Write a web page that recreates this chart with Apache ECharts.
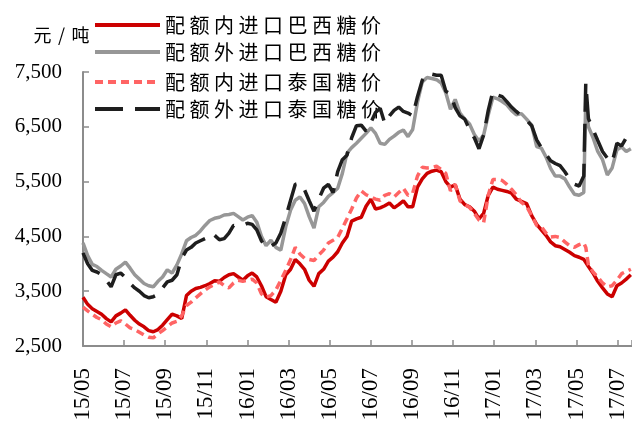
<!DOCTYPE html>
<html>
<head>
<meta charset="utf-8">
<script src="https://cdn.jsdelivr.net/npm/echarts@6/dist/echarts.min.js"></script>
<style>
  html, body { margin: 0; padding: 0; background: #fff; }
  #chart { width: 632px; height: 437px; }
</style>
</head>
<body>
<div id="chart"></div>
<script>
// Weekly observation dates (plus the mid-May 2017 jump)
const dates = [
  '2015-05-01','2015-05-08','2015-05-15','2015-05-22','2015-05-29','2015-06-05','2015-06-12','2015-06-19','2015-06-26',
  '2015-07-03','2015-07-10','2015-07-17','2015-07-24','2015-07-31','2015-08-07','2015-08-14','2015-08-21','2015-08-28',
  '2015-09-04','2015-09-11','2015-09-18','2015-09-25','2015-10-02','2015-10-09','2015-10-16','2015-10-23','2015-10-30',
  '2015-11-06','2015-11-13','2015-11-20','2015-11-27','2015-12-04','2015-12-11','2015-12-18','2015-12-25',
  '2016-01-01','2016-01-08','2016-01-15','2016-01-22','2016-01-29','2016-02-05','2016-02-12','2016-02-19','2016-02-26',
  '2016-03-04','2016-03-11','2016-03-18','2016-03-25','2016-04-01','2016-04-08','2016-04-15','2016-04-22','2016-04-29',
  '2016-05-06','2016-05-13','2016-05-20','2016-05-27','2016-06-03','2016-06-10','2016-06-17','2016-06-24',
  '2016-07-01','2016-07-08','2016-07-15','2016-07-22','2016-07-29','2016-08-05','2016-08-12','2016-08-19','2016-08-26',
  '2016-09-02','2016-09-09','2016-09-16','2016-09-23','2016-09-30','2016-10-07','2016-10-14','2016-10-21','2016-10-28',
  '2016-11-04','2016-11-11','2016-11-18','2016-11-25','2016-12-02','2016-12-09','2016-12-16','2016-12-23','2016-12-30',
  '2017-01-06','2017-01-13','2017-01-20','2017-01-27','2017-02-03','2017-02-10','2017-02-17','2017-02-24',
  '2017-03-03','2017-03-10','2017-03-17','2017-03-24','2017-03-31','2017-04-07','2017-04-14','2017-04-21','2017-04-28',
  '2017-05-05','2017-05-12','2017-05-15','2017-05-19','2017-05-26','2017-06-02','2017-06-09','2017-06-16','2017-06-23',
  '2017-06-30','2017-07-07','2017-07-14','2017-07-21'
];

// 配额内进口巴西糖价 (元/吨)
const brazilInQuota = [
  3390,3260,3180,3130,3080,3000,2940,3050,3100,3160,
  3060,2970,2900,2850,2780,2760,2800,2880,2980,3080,
  3050,3000,3420,3500,3550,3570,3600,3640,3690,3680,
  3750,3800,3820,3760,3700,3780,3830,3760,3600,3400,
  3350,3300,3500,3800,3900,4080,4000,3900,3700,3590,
  3820,3900,4050,4120,4220,4380,4500,4780,4820,4850,
  5050,5180,5000,5020,5060,5110,5020,5080,5150,5040,
  5040,5400,5550,5650,5690,5710,5680,5500,5400,5440,
  5180,5080,5040,4960,4820,4920,5250,5400,5360,5340,
  5320,5290,5180,5140,5100,4880,4720,4620,4520,4400,
  4330,4310,4260,4210,4150,4120,4080,4100,
  3950,3830,3680,3560,3450,3400,3600,3650,3720,3800
];

// 配额外进口巴西糖价 (元/吨)
const brazilOutQuota = [
  4380,4150,3990,3950,3880,3820,3760,3900,3960,4030,
  3920,3800,3720,3640,3600,3580,3680,3760,3890,3830,
  3980,4180,4420,4480,4520,4600,4700,4790,4830,4850,
  4890,4900,4920,4860,4800,4850,4880,4760,4500,4330,
  4430,4300,4250,4680,4980,5160,5220,5100,4860,4650,
  5040,5120,5230,5300,5380,5650,6020,6120,6200,6290,
  6380,6480,6380,6200,6180,6270,6330,6400,6440,6320,
  6450,6950,7320,7400,7380,7360,7300,7120,6820,7000,
  6750,6640,6550,6360,6240,6350,6720,7040,7010,6960,
  6900,6800,6720,6740,6640,6530,6140,6110,5950,5740,
  5600,5600,5550,5400,5270,5250,5300,7000,
  6500,6300,6050,5900,5620,5750,6080,6130,6050,6100
];

// 配额内进口泰国糖价 (元/吨)
const thaiInQuota = [
  3210,3140,3080,3020,2980,2900,2850,2920,2960,2900,
  2830,2800,2750,2700,2660,2650,2720,2780,2850,2920,
  2950,3050,3240,3300,3380,3450,3520,3580,3620,3670,
  3600,3560,3650,3700,3680,3700,3720,3650,3450,3390,
  3420,3520,3700,3880,4080,4300,4180,4100,4080,4060,
  4160,4250,4380,4430,4480,4650,4820,5000,5200,5330,
  5260,5220,5180,5160,5250,5280,5220,5300,5380,5250,
  5290,5600,5760,5750,5760,5780,5720,5650,5330,5450,
  5150,5080,5030,4920,4800,4750,5250,5540,5540,5520,
  5450,5360,5260,5120,5050,4880,4700,4680,4560,4490,
  4500,4480,4400,4330,4300,4350,4380,4300,
  3980,3850,3760,3650,3580,3600,3700,3820,3860,3900
];

// 配额外进口泰国糖价 (元/吨)
const thaiOutQuota = [
  4200,4000,3880,3850,3800,3700,3580,3800,3830,3750,
  3640,3560,3500,3420,3380,3400,3440,3560,3670,3700,
  3800,4100,4250,4300,4380,4420,4460,4550,4520,4440,
  4460,4560,4700,4690,4700,4740,4720,4620,4420,4300,
  4320,4380,4560,4850,5160,5450,5470,5350,5150,4960,
  5180,5380,5450,5300,5680,5900,5980,6300,6520,6530,
  6420,6580,6760,6840,6560,6700,6800,6860,6780,6750,
  6700,7050,7350,7470,7460,7440,7440,7150,7100,6850,
  6700,6640,6450,6300,6100,6350,6800,7150,7080,7050,
  6960,6860,6780,6700,6620,6520,6260,6120,6000,5880,
  5830,5790,5680,5550,5450,5420,5600,7300,
  6650,6450,6250,6050,5930,5850,6200,6150,6300,6350
];

const seriesNames = ['配额内进口巴西糖价', '配额外进口巴西糖价', '配额内进口泰国糖价', '配额外进口泰国糖价'];
const unitLabel = '元/吨';
const yTicks = [2500, 3500, 4500, 5500, 6500, 7500];

// x position = months elapsed since May 2015 (fractional within each month)
function monthIndex(s) {
  const [y, m, d] = s.split('-').map(Number);
  const days = new Date(Date.UTC(y, m, 0)).getUTCDate();
  return (y - 2015) * 12 + (m - 5) + (d - 1) / days;
}
function monthLabel(v) {
  if (Math.abs(v - Math.round(v)) > 1e-6 || Math.round(v) % 2 !== 0) return '';
  const t = Math.round(v) + 4;
  const yy = 15 + Math.floor(t / 12);
  const mm = (t % 12) + 1;
  return yy + '/' + (mm < 10 ? '0' + mm : mm);
}
const pair = vals => dates.map((d, i) => [monthIndex(d), vals[i]]);

const chart = echarts.init(document.getElementById('chart'), null, { renderer: 'canvas' });

const cjk = "'Noto Sans CJK SC', sans-serif";
const serif = "'Liberation Serif', 'Times New Roman', serif";

// evenly spaced glyphs for the CJK labels
const legendRich = {
  c: { width: 24.5, fontSize: 20, fontFamily: cjk, color: '#000', align: 'left' }
};
const spaced = name => name.split('').map(ch => '{c|' + ch + '}').join('');
const legendRows = [10, 37, 67, 94];

const styles = [
  { color: '#CC0000', type: 'solid' },
  { color: '#979797', type: 'solid' },
  { color: '#FF6464', type: [8, 5] },
  { color: '#1E1E1E', type: [28, 12] }
];
const valueSets = [brazilInQuota, brazilOutQuota, thaiInQuota, thaiOutQuota];

chart.setOption({
  animation: false,
  backgroundColor: '#fff',
  title: {
    text: unitLabel.split('').map(ch => '{u|' + ch + '}').join(''),
    left: 28, top: 21,
    textStyle: {
      fontFamily: cjk, fontSize: 18, fontWeight: 'normal', color: '#000',
      rich: { u: { width: 19, fontSize: 18, fontFamily: cjk, color: '#000', align: 'center' } }
    }
  },
  legend: seriesNames.map((n, i) => ({
    data: [n],
    left: 88,
    top: legendRows[i],
    itemWidth: 65,
    itemHeight: 20,
    formatter: spaced,
    itemStyle: { opacity: 0 },
    lineStyle: { width: 4 },
    textStyle: { rich: legendRich, fontFamily: cjk, fontSize: 20, lineHeight: 20 },
    selectedMode: false
  })),
  grid: { left: 83, right: 0, top: 72, bottom: 91, containLabel: false },
  xAxis: {
    type: 'value',
    min: 0, max: 26.7, interval: 2,
    splitLine: { show: false },
    axisLine: { lineStyle: { color: '#8C8C8C', width: 2 } },
    axisTick: { inside: true, length: 6, lineStyle: { color: '#8C8C8C', width: 1.5 } },
    axisLabel: {
      rotate: 90, margin: 22,
      fontFamily: serif, fontSize: 23, color: '#000',
      padding: [10, 0, 0, 0],
      formatter: monthLabel
    }
  },
  yAxis: {
    type: 'value',
    min: yTicks[0], max: yTicks[yTicks.length - 1], interval: 1000,
    splitLine: { show: false },
    axisLine: { show: true, lineStyle: { color: '#8C8C8C', width: 2 } },
    axisTick: { show: true, inside: true, length: 6, lineStyle: { color: '#8C8C8C', width: 1.5 } },
    axisLabel: {
      margin: 21, fontFamily: serif, fontSize: 21, color: '#000',
      formatter: v => v.toLocaleString('en-US')
    }
  },
  series: seriesNames.map((n, i) => ({
    name: n,
    type: 'line',
    data: pair(valueSets[i]),
    symbol: 'none',
    showSymbol: false,
    lineStyle: { color: styles[i].color, width: 3.5, type: styles[i].type },
    itemStyle: { color: styles[i].color },
    z: 2 + i
  }))
});
</script>
</body>
</html>
